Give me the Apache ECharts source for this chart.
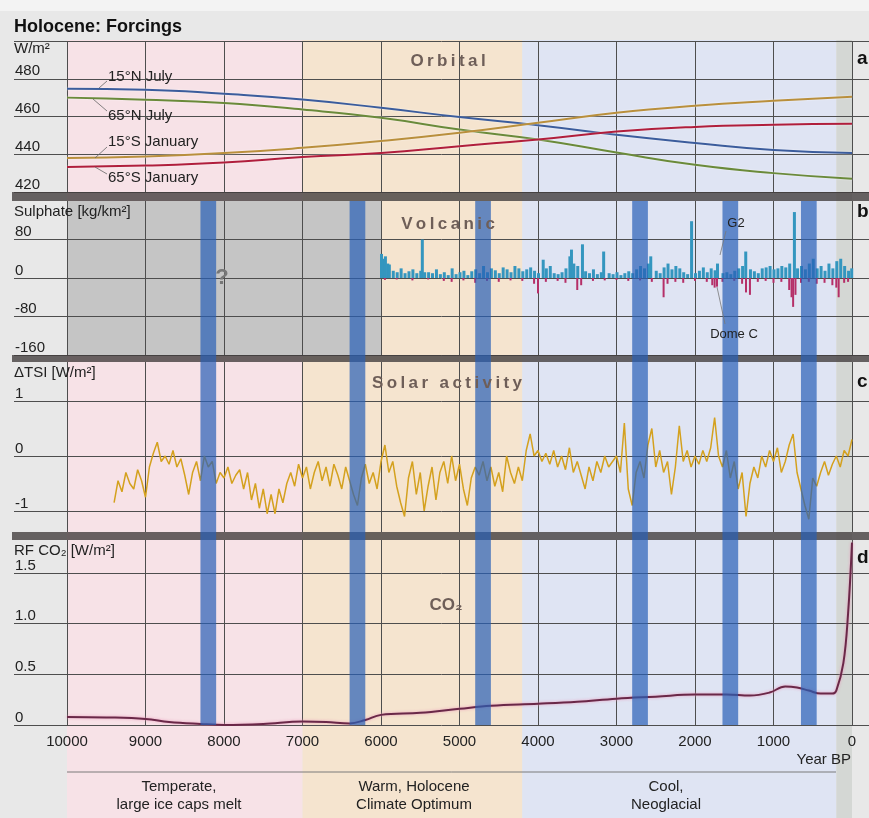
<!DOCTYPE html>
<html><head><meta charset="utf-8">
<script src="https://cdn.jsdelivr.net/npm/echarts@6/dist/echarts.min.js"></script>
<style>html,body{margin:0;padding:0;background:#e8e8e8}#c{width:869px;height:818px}</style>
</head><body><div id="c"></div>
<script>
// ---------------- DATA ----------------
const yearTicks = [10000,9000,8000,7000,6000,5000,4000,3000,2000,1000,0];
const orbitalYears = [10000,9000,8000,7000,6000,5000,4000,3000,2000,1000,0];
const jul15N = [474.7,474.2,472.0,469.0,464.6,459.7,455.4,450.3,446.0,442.3,440.7];
const jul65N = [470.0,468.9,467.1,463.7,459.3,453.1,447.8,440.9,434.4,430.0,427.0];
const jan15S = [438.0,438.8,440.6,443.4,447.0,451.4,456.7,462.0,465.7,468.3,470.5];
const jan65S = [433.3,434.0,435.6,438.5,440.7,444.3,447.8,452.0,454.5,455.6,456.1];
const orbitalTicks = [420,440,460,480,500];
const orbitalLabels = [420,440,460,480];

const volcTicks = [-160,-80,0,80];
const g2 = [[6000,50],[5980,40],[5950,45],[5920,30],[5900,28],[5850,15],[5800,12],[5750,20],[5700,10],[5650,14],[5600,18],[5550,10],[5500,15],[5480,80],[5450,12],[5400,12],[5350,10],[5300,18],[5250,8],[5200,12],[5150,6],[5100,20],[5050,8],[5000,12],[4950,15],[4900,6],[4850,14],[4800,18],[4750,10],[4700,25],[4650,12],[4600,20],[4550,16],[4500,10],[4450,22],[4400,18],[4350,12],[4300,25],[4250,20],[4200,14],[4150,18],[4100,22],[4050,15],[4000,10],[3940,38],[3900,20],[3850,25],[3800,10],[3750,8],[3700,12],[3650,20],[3600,45],[3580,59],[3550,30],[3500,25],[3440,70],[3400,14],[3350,10],[3300,18],[3250,8],[3200,12],[3170,55],[3100,10],[3050,8],[3000,12],[2950,6],[2900,10],[2850,14],[2800,10],[2750,18],[2700,25],[2650,20],[2600,30],[2570,45],[2500,15],[2450,10],[2400,22],[2350,30],[2300,18],[2250,25],[2200,20],[2150,12],[2100,8],[2050,118],[2000,10],[1950,15],[1900,22],[1850,12],[1800,20],[1750,16],[1720,30],[1650,10],[1600,12],[1550,8],[1500,15],[1450,20],[1400,25],[1360,55],[1300,18],[1250,14],[1200,10],[1150,20],[1100,22],[1050,25],[1000,18],[950,20],[900,25],[850,22],[800,30],[740,137],[700,20],[650,25],[600,18],[550,30],[500,40],[450,20],[400,25],[350,15],[300,30],[250,20],[200,35],[150,40],[100,25],[50,15],[10,20]];
const domeC = [[5950,-4],[5800,-3],[5600,-5],[5400,-3],[5200,-6],[5100,-8],[4950,-5],[4800,-10],[4650,-6],[4500,-8],[4350,-5],[4200,-6],[4050,-12],[4000,-32],[3900,-8],[3750,-6],[3650,-10],[3500,-25],[3450,-15],[3300,-6],[3150,-5],[3000,-4],[2850,-6],[2700,-5],[2550,-8],[2400,-40],[2350,-12],[2250,-8],[2150,-10],[2000,-6],[1850,-8],[1780,-15],[1750,-20],[1720,-18],[1650,-8],[1500,-6],[1400,-12],[1350,-30],[1300,-35],[1200,-8],[1100,-6],[1000,-10],[900,-8],[800,-25],[770,-40],[750,-60],[720,-35],[650,-10],[550,-8],[450,-12],[350,-10],[250,-15],[200,-20],[170,-40],[100,-10],[50,-8]];

const solarTicks = [-1,0,1];
const solar = [[9400,-0.85],[9350,-0.45],[9300,-0.65],[9250,-0.3],[9200,-0.5],[9150,-0.6],[9100,-0.25],[9050,-0.45],[9000,-0.75],[8950,-0.2],[8900,0.05],[8850,0.25],[8800,-0.1],[8750,0.0],[8700,-0.15],[8650,0.1],[8600,-0.2],[8550,-0.05],[8500,-0.35],[8450,-0.7],[8400,-0.3],[8350,-0.1],[8300,-0.45],[8250,0.0],[8200,-0.2],[8150,-0.1],[8100,-0.5],[8050,-0.3],[8000,-0.4],[7950,-0.2],[7900,-0.5],[7850,-0.35],[7800,-0.25],[7750,-0.6],[7700,-0.3],[7650,-0.8],[7600,-0.5],[7550,-0.95],[7500,-0.6],[7450,-1.05],[7400,-0.7],[7350,-1.05],[7300,-0.6],[7250,-0.85],[7200,-0.5],[7150,-0.3],[7100,-0.55],[7050,-0.15],[7000,-0.4],[6950,-0.2],[6900,-0.6],[6850,-0.3],[6800,-0.1],[6750,-0.45],[6700,-0.2],[6650,-0.55],[6600,-0.15],[6550,-0.35],[6500,-0.6],[6450,-0.2],[6400,-0.45],[6350,-0.7],[6300,-0.9],[6250,-0.4],[6200,-0.15],[6150,-0.5],[6100,-0.3],[6050,-0.6],[6000,-0.1],[5950,0.2],[5900,-0.3],[5850,-0.1],[5800,-0.55],[5750,-0.85],[5700,-1.1],[5650,-0.4],[5600,-0.1],[5550,-0.7],[5500,-0.3],[5450,-1.0],[5400,-0.55],[5350,-0.2],[5300,-0.8],[5250,-0.3],[5200,-0.1],[5150,-0.5],[5100,0.0],[5050,-0.45],[5000,-0.15],[4950,-0.6],[4900,-0.9],[4850,-0.4],[4800,-0.2],[4750,-0.35],[4700,-0.1],[4650,-0.45],[4600,-0.2],[4550,-0.55],[4500,-0.3],[4450,-0.65],[4400,0.0],[4350,-0.3],[4300,-0.5],[4250,-0.2],[4200,-0.45],[4150,0.1],[4100,0.4],[4050,0.0],[4000,0.1],[3950,-0.1],[3900,0.05],[3850,-0.15],[3800,0.1],[3750,-0.2],[3700,0.0],[3650,-0.25],[3600,0.15],[3550,-0.3],[3500,-0.1],[3450,-0.35],[3400,-0.6],[3350,-0.2],[3300,-0.45],[3250,-0.1],[3200,-0.3],[3150,0.0],[3100,-0.2],[3050,-0.1],[3000,0.0],[2950,-0.3],[2900,0.6],[2850,-0.6],[2800,-0.9],[2750,-0.3],[2700,-0.1],[2650,-0.4],[2600,0.2],[2550,0.5],[2500,-0.2],[2450,0.1],[2400,-0.3],[2350,-0.1],[2300,-0.7],[2250,-0.2],[2200,0.55],[2150,-0.1],[2100,0.1],[2050,-0.2],[2000,0.0],[1950,-0.15],[1900,0.1],[1850,-0.1],[1800,0.15],[1750,0.7],[1700,0.0],[1650,-0.2],[1600,0.1],[1550,-0.4],[1500,-0.1],[1450,-0.6],[1400,-0.3],[1350,-1.1],[1300,-0.5],[1250,-0.2],[1200,-0.4],[1150,0.0],[1100,-0.2],[1050,0.1],[1000,-0.1],[950,0.15],[900,-0.3],[850,-0.1],[800,0.2],[750,0.4],[700,-0.3],[650,-0.6],[600,-0.9],[550,-1.15],[500,-0.4],[450,-0.55],[400,-0.3],[350,-0.1],[300,-0.35],[250,-0.15],[200,0.0],[150,-0.2],[100,0.1],[50,0.0],[0,0.3]];

const co2Ticks = [0,0.5,1.0,1.5];
const co2 = [[10000,0.08],[9500,0.075],[9000,0.06],[8700,0.03],[8300,0.01],[8000,0.0],[7500,0.01],[7000,0.035],[6700,0.03],[6400,0.015],[6200,0.05],[6000,0.1],[5500,0.12],[5000,0.16],[4600,0.19],[4000,0.21],[3500,0.23],[3000,0.26],[2500,0.28],[2000,0.3],[1600,0.3],[1300,0.29],[1050,0.32],[850,0.38],[700,0.37],[550,0.34],[400,0.31],[250,0.31],[200,0.34],[110,0.61],[50,1.1],[0,1.8]];

const bandRanges = [[10000,7000],[7000,4200],[4200,200],[200,0]];
const bandNames = [['Temperate,','large ice caps melt'],['Warm, Holocene','Climate Optimum'],['Cool,','Neoglacial']];
const volcNoData = [10000,6000];
const eventRanges = [[8300,8100],[6400,6200],[4800,4600],[2800,2600],[1650,1450],[650,450]];

// ---------------- STYLE / LAYOUT ----------------
const FONT = "'Liberation Sans', Arial, sans-serif";
const bandColors = ['#f7e2e7','#f5e4cf','#dfe4f3','#d4d7d4'];
const XMIN = -216.6, XMAX = 10675.2;
const GRID = '#4e4e4e';

function xAx(gi, opts) {
  opts = opts || {};
  return { type:'value', gridIndex:gi, inverse:true, min:XMIN, max:XMAX, z:3,
    show: opts.hidden ? false : true,
    axisLine:{show:false},
    axisTick:{show:false, customValues: yearTicks},
    axisLabel:{show: !!opts.labels, customValues: yearTicks, color:'#222', fontSize:15, fontFamily:FONT, margin:9,
      formatter: v => String(v)},
    splitLine:{show: !opts.hidden, lineStyle:{color:GRID, width:1}} };
}
function yAx(gi, min, max, ticks, labels, fmt) {
  return { type:'value', gridIndex:gi, min:min, max:max, z:3,
    axisLine:{show:false},
    axisTick:{show:false, customValues: ticks},
    axisLabel:{show:true, customValues: labels, inside:true, margin:1, align:'left', verticalAlign:'bottom',
      color:'#222', fontSize:15, fontFamily:FONT, formatter: fmt || (v => String(v))},
    splitLine:{show:true, lineStyle:{color:GRID, width:1}} };
}
function yHidden(gi) { return {type:'value', gridIndex:gi, min:0, max:1, show:false, splitLine:{show:false}}; }

const grids = [
  {left:14, right:0, top:41, height:151},
  {left:14, right:0, top:201, height:154},
  {left:14, right:0, top:362, height:170},
  {left:14, right:0, top:540, height:185},
  {left:14, right:0, top:40, height:778},
  {left:14, right:0, top:201, height:524}
].map(g => Object.assign(g, {outerBoundsMode:'none', containLabel:false}));

const toPairs = (xs, ys) => xs.map((x,i)=>[x, ys[i]]);

function orbLine(name, ys, color) {
  return {type:'line', name:name, xAxisIndex:0, yAxisIndex:0, data: toPairs(orbitalYears, ys), smooth:true,
    showSymbol:false, z:4, lineStyle:{color:color, width:2, shadowColor:'rgba(255,255,255,0.7)', shadowBlur:2}};
}

function txt(x, y, text, o) {
  o = o || {};
  return {type:'text', x:x, y:y, z:o.z || 12, silent:true,
    style:{text:text, fill:o.fill || '#222', font:(o.weight||'normal')+' '+(o.size||14)+'px '+FONT,
      textAlign:o.align || 'left', textVerticalAlign:'middle'}};
}
function ln(x1,y1,x2,y2,c,w) {
  return {type:'line', z:12, silent:true, shape:{x1:x1,y1:y1,x2:x2,y2:y2}, style:{stroke:c||'#666', lineWidth:w||0.8}};
}
const spaced = s => s.split('').join('\u2009');
const PANEL = '#6e5e58';

const graphics = [
  {type:'rect', z:0, silent:true, shape:{x:0,y:0,width:869,height:11}, style:{fill:'#f3f3f3'}},
  {type:'rect', z:8, silent:true, shape:{x:12,y:192,width:857,height:9}, style:{fill:'rgba(68,62,62,0.8)'}},
  {type:'rect', z:8, silent:true, shape:{x:12,y:355,width:857,height:7}, style:{fill:'rgba(68,62,62,0.8)'}},
  {type:'rect', z:8, silent:true, shape:{x:12,y:532,width:857,height:8}, style:{fill:'rgba(68,62,62,0.8)'}},
  txt(14, 27, 'Holocene: Forcings', {weight:'bold', size:18, fill:'#111'}),
  txt(14, 49, 'W/m²', {size:15}),
  txt(14, 212, 'Sulphate [kg/km²]', {size:15}),
  txt(14, 373, 'ΔTSI [W/m²]', {size:15}),
  txt(14, 551, 'RF CO₂ [W/m²]', {size:15}),
  txt(857, 59, 'a', {weight:'bold', size:19, fill:'#111'}),
  txt(857, 212, 'b', {weight:'bold', size:19, fill:'#111'}),
  txt(857, 382, 'c', {weight:'bold', size:19, fill:'#111'}),
  txt(857, 558, 'd', {weight:'bold', size:19, fill:'#111'}),
  txt(448, 61, spaced('Orbital'), {weight:'bold', size:17, fill:PANEL, align:'center'}),
  txt(448, 224, spaced('Volcanic'), {weight:'bold', size:17, fill:PANEL, align:'center'}),
  txt(447, 383, spaced('Solar activity'), {weight:'bold', size:17, fill:PANEL, align:'center'}),
  txt(446, 605, 'CO₂', {weight:'bold', size:17, fill:PANEL, align:'center'}),
  txt(222, 278, '?', {weight:'bold', size:22, fill:'#777', align:'center'}),
  txt(736, 223, 'G2', {size:13, fill:'#222', align:'center'}),
  txt(734, 334, 'Dome C', {size:13, fill:'#222', align:'center'}),
  ln(720,255,726,231,'#777'), ln(717,287,725,324,'#777'),
  txt(108, 77, '15°N July', {size:15}), txt(108, 116, '65°N July', {size:15}),
  txt(108, 142, '15°S January', {size:15}), txt(108, 178, '65°S January', {size:15}),
  ln(99,88,107,81), ln(93,99,107,111), ln(95,158,107,147), ln(95,167,107,174),
  txt(851, 760, 'Year BP', {align:'right', size:15}),
  ln(67,772,836,772,'#7a7a7a',1),
  txt(179, 787, bandNames[0][0], {align:'center', size:15}), txt(179, 805, bandNames[0][1], {align:'center', size:15}),
  txt(414, 787, bandNames[1][0], {align:'center', size:15}), txt(414, 805, bandNames[1][1], {align:'center', size:15}),
  txt(666, 787, bandNames[2][0], {align:'center', size:15}), txt(666, 805, bandNames[2][1], {align:'center', size:15})
];

const option = {
  animation:false,
  backgroundColor:'#e8e8e8',
  grid: grids,
  xAxis: [xAx(0), xAx(1), xAx(2), xAx(3,{labels:true}), xAx(4,{hidden:true}), xAx(5,{hidden:true})],
  yAxis: [
    yAx(0, 420, 500, orbitalTicks, orbitalLabels),
    yAx(1, -160, 160, volcTicks, volcTicks),
    yAx(2, -1.382, 1.709, solarTicks, solarTicks),
    yAx(3, 0, 1.826, co2Ticks, co2Ticks, v => v === 0 ? '0' : v.toFixed(1)),
    yHidden(4), yHidden(5)
  ],
  series: [
    {type:'line', xAxisIndex:4, yAxisIndex:4, data:[[0,-1]], showSymbol:false, silent:true, z:1,
      markArea:{silent:true, z:1, data: bandRanges.map((r,i)=>[{xAxis:r[0], itemStyle:{color:bandColors[i]}},{xAxis:r[1]}])}},
    {type:'line', xAxisIndex:1, yAxisIndex:1, data:[[0,-500]], showSymbol:false, silent:true, z:2,
      markArea:{silent:true, z:2, data:[[{xAxis:volcNoData[0], itemStyle:{color:'#c5c5c5'}},{xAxis:volcNoData[1]}]]}},
    orbLine('15°N July', jul15N, '#3b5c9c'),
    orbLine('65°N July', jul65N, '#6a8a3a'),
    orbLine('15°S January', jan15S, '#b98f3c'),
    orbLine('65°S January', jan65S, '#b01e3c'),
    {type:'bar', name:'G2', xAxisIndex:1, yAxisIndex:1, data:g2, barWidth:3, barGap:'-100%', z:4, itemStyle:{color:'#3496bf'}},
    {type:'bar', name:'Dome C', xAxisIndex:1, yAxisIndex:1, data:domeC, barWidth:2, barGap:'-100%', z:4, itemStyle:{color:'#b52f68'}},
    {type:'line', name:'Solar', xAxisIndex:2, yAxisIndex:2, data:solar, showSymbol:false, z:4,
      lineStyle:{color:'#d4a11e', width:1.5}},
    {type:'line', name:'CO2', xAxisIndex:3, yAxisIndex:3, data:co2, smooth:0.4, showSymbol:false, z:4,
      lineStyle:{color:'#6a2848', width:2, shadowColor:'rgba(235,150,185,0.9)', shadowBlur:3}},
    {type:'line', xAxisIndex:5, yAxisIndex:5, data:[[0,-1]], showSymbol:false, silent:true, z:10,
      markArea:{silent:true, z:10, data: eventRanges.map(r=>[{xAxis:r[0], itemStyle:{color:'rgba(40,96,182,0.7)'}},{xAxis:r[1]}])}}
  ],
  graphic: graphics
};
const chart = echarts.init(document.getElementById('c'), null, {renderer:'canvas'});
chart.setOption(option);
</script></body></html>
